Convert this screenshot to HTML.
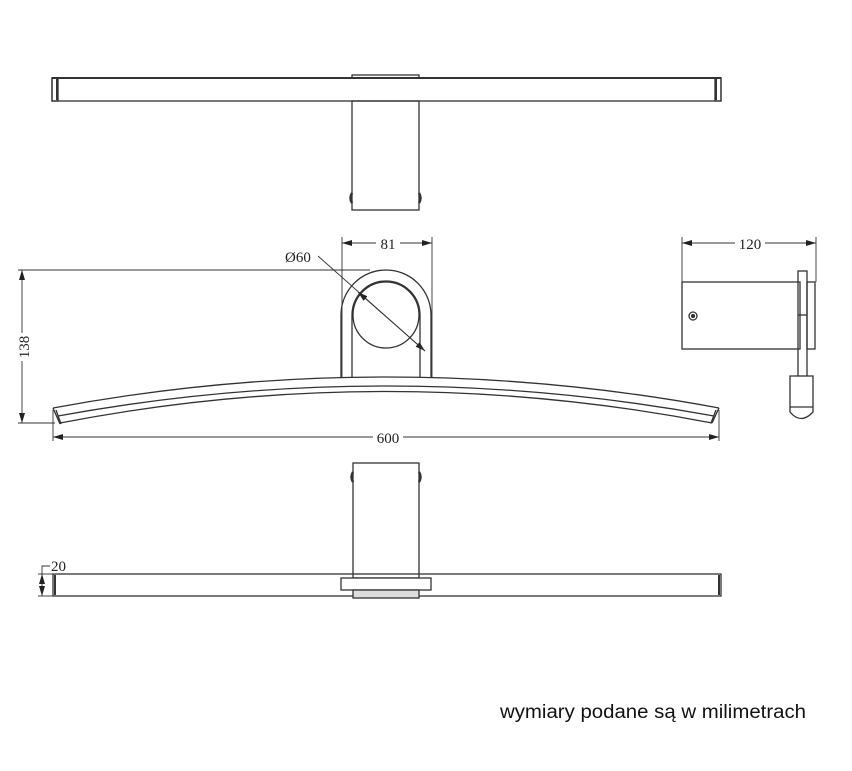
<!DOCTYPE html>
<html><head><meta charset="utf-8"><style>html,body{margin:0;padding:0;background:#fff}svg{display:block}</style></head><body>
<svg width="852" height="771" viewBox="0 0 852 771" xmlns="http://www.w3.org/2000/svg" font-family="Liberation Serif, serif">
<defs><marker id="a" viewBox="0 0 10 6" refX="10" refY="3" markerWidth="10" markerHeight="6" orient="auto-start-reverse" markerUnits="userSpaceOnUse"><path d="M0,0L10,3L0,6z" fill="#222"/></marker></defs>
<g fill="none" stroke="#333" stroke-width="1.3">
<rect x="52" y="78" width="669" height="23"/>
<line x1="52" y1="78" x2="721" y2="78" stroke-width="2"/>
<rect x="52" y="78" width="6" height="23"/><line x1="57" y1="79" x2="57" y2="100" stroke-width="2"/>
<rect x="715" y="78" width="6" height="23"/><line x1="716" y1="79" x2="716" y2="100" stroke-width="2"/>
<rect x="352" y="75" width="67" height="3"/>
<rect x="352" y="101" width="67" height="109"/>
<path d="M352,193 q-3,5 0,10 M419,193 q3,5 0,10" stroke-width="2.5"/>
<path d="M341,377 V315 A45,45 0 0 1 431,315 V377"/>
<path d="M352,377 V315 A34,34 0 0 1 420,315 V377"/>
<circle cx="386" cy="315" r="33"/>
<path d="M53,408 Q386,346 719,408"/>
<path d="M58,416 Q386,356 714,416"/>
<path d="M60,423 Q386,360 712,423"/>
<path d="M53,408 L60,424 M56,410 L61,424 M719,408 L712,423 M716,410 L711,423"/>
<rect x="682" y="282" width="118" height="67"/>
<rect x="798" y="271" width="9" height="105"/>
<line x1="798" y1="315" x2="807" y2="315"/>
<rect x="807" y="282" width="8" height="67"/>
<path d="M798,376 H790 V412 Q801,425 813,412 V376 H807"/>
<line x1="790" y1="407" x2="813" y2="407"/>
<circle cx="693" cy="316" r="4"/><circle cx="693" cy="316" r="1.5" fill="#333"/>
<rect x="53" y="574" width="668" height="22"/>
<line x1="55" y1="575" x2="55" y2="595" stroke-width="2"/>
<line x1="719" y1="575" x2="719" y2="595" stroke-width="2"/>
<rect x="353" y="463" width="66" height="115"/>
<path d="M353,472 q-3,5 0,10 M419,472 q3,5 0,10" stroke-width="2.5"/>
<rect x="341" y="578" width="90" height="12" fill="#fff"/>
<rect x="353" y="590" width="66" height="8" fill="#ddd"/>
</g>
<g stroke="#333" stroke-width="0.9" fill="none">
<line x1="342" y1="237" x2="342" y2="377"/><line x1="432" y1="237" x2="432" y2="377"/>
<line x1="342" y1="243" x2="432" y2="243" marker-start="url(#a)" marker-end="url(#a)"/>
<path d="M318,256 L425,351" marker-end="url(#a)"/>
<path d="M425,351 L358,292" marker-end="url(#a)"/>
<line x1="18" y1="270" x2="370" y2="270"/><line x1="18" y1="423" x2="55" y2="423"/>
<line x1="22" y1="270" x2="22" y2="423" marker-start="url(#a)" marker-end="url(#a)"/>
<line x1="53" y1="410" x2="53" y2="441"/><line x1="719" y1="410" x2="719" y2="441"/>
<line x1="53" y1="437" x2="719" y2="437" marker-start="url(#a)" marker-end="url(#a)"/>
<line x1="682" y1="237" x2="682" y2="282"/><line x1="816" y1="237" x2="816" y2="282"/>
<line x1="682" y1="243" x2="816" y2="243" marker-start="url(#a)" marker-end="url(#a)"/>
<line x1="38" y1="574" x2="53" y2="574"/><line x1="38" y1="596" x2="53" y2="596"/>
<path d="M42,574 V566 H50"/>
<line x1="42" y1="574" x2="42" y2="596" marker-start="url(#a)" marker-end="url(#a)"/>
</g>
<g font-size="15" fill="#222">
<rect x="376" y="236" width="24" height="14" fill="#fff"/><text x="388" y="249" text-anchor="middle">81</text>
<text x="285" y="262">Ø60</text>
<rect x="373" y="430" width="30" height="14" fill="#fff"/><text x="388" y="443" text-anchor="middle">600</text>
<rect x="735" y="236" width="30" height="14" fill="#fff"/><text x="750" y="249" text-anchor="middle">120</text>
<rect x="15" y="333" width="14" height="28" fill="#fff"/><text transform="translate(29,347) rotate(-90)" text-anchor="middle">138</text>
<text x="51" y="571">20</text>
</g>
<text x="500" y="718" font-family="Liberation Sans, sans-serif" font-size="19" fill="#111" textLength="306" lengthAdjust="spacingAndGlyphs">wymiary podane są w milimetrach</text>
</svg>
</body></html>
